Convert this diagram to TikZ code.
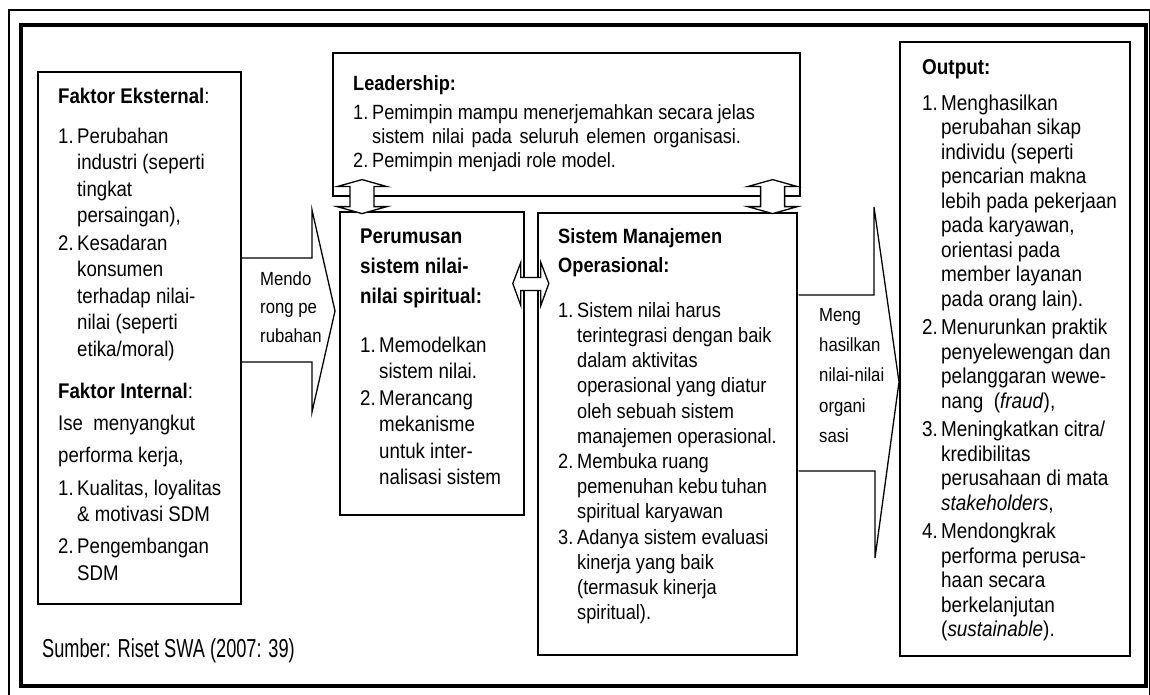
\documentclass[tikz,border=0pt]{standalone}
\usepackage{fontspec}
\setmainfont{Liberation Sans}[FakeStretch=0.88]
\newfontfamily\srcfont{Liberation Sans}[FakeStretch=0.70]
\usetikzlibrary{calc}
\newcommand{\nb}[1]{\makebox[19pt][l]{#1}}
\newcommand{\ind}{\hspace*{19pt}}
\newcommand{\fs}{\rule{0pt}{16pt}}
\newlength\ldw
\begin{document}
\settowidth\ldw{\fontsize{20.6}{24}\selectfont Pemimpin mampu menerjemahkan secara jelas}
\begin{tikzpicture}[x=1pt,y=-1pt,
  box/.style={draw, line width=1.6pt, rectangle, inner sep=0pt, anchor=north west},
  txt/.style={anchor=north west, inner sep=0pt, align=left},
  blockarrow/.style={draw, line width=1.3pt, line join=miter},
  dblarrow/.style={draw, line width=1.3pt, fill=white, line join=miter},
  frame/.style={draw, line width=3.5pt},
  thinframe/.style={draw, line width=1.4pt},
]
\useasboundingbox (0,0) rectangle (1150,695);
\fill[white] (0,0) rectangle (1150,695);
% frames
\draw[thinframe] (9,700) -- (9,10) -- (1149.3,10) -- (1149.3,700);
\draw[frame] (21,25) rectangle (1146,686);

% boxes
\node[box, minimum width=203pt, minimum height=532pt] (faktor) at (37,71) {};
\node[box, minimum width=467pt, minimum height=143pt] (leader) at (332,52) {};
\node[box, minimum width=184pt, minimum height=303pt] (perum) at (339,211) {};
\node[box, minimum width=259pt, minimum height=442pt] (sistem) at (537,212) {};
\node[box, minimum width=230pt, minimum height=614pt] (output) at (899,41) {};

% block arrows
\coordinate (a1s) at ($(faktor.north east)+(0,187)$);
\coordinate (a1e) at ($(faktor.north east)+(0,291)$);
\draw[blockarrow] (a1s) -- (312,258) -- (312,210) -- (335,311) -- (312,412) -- (312,362) -- (a1e);
\coordinate (a2s) at ($(sistem.north east)+(1,83)$);
\coordinate (a2e) at ($(sistem.north east)+(1,259)$);
\draw[blockarrow] (a2s) -- (874,295) -- (874,207) -- (899,382) -- (875,558) -- (875,471) -- (a2e);

% double arrows
\coordinate (d1) at ($(leader.south west)+(30,0)$);
\draw[dblarrow] ($(d1)+(0,-17)$) -- ++(25,7) -- ++(-13,0) -- ++(0,20) -- ++(13,0) -- ++(-25,7) -- ++(-25,-7) -- ++(13,0) -- ++(0,-20) -- ++(-13,0) -- cycle;
\coordinate (d2) at ($(leader.south east)+(-28,0)$);
\draw[dblarrow] ($(d2)+(0,-17)$) -- ++(25,7) -- ++(-13,0) -- ++(0,20) -- ++(13,0) -- ++(-25,7) -- ++(-25,-7) -- ++(13,0) -- ++(0,-20) -- ++(-13,0) -- cycle;
\coordinate (d3) at ($(perum.north east)!0.5!(sistem.north west)+(0,72)$);
\draw[dblarrow] ($(d3)+(-18,0)$) -- ++(8,-21) -- ++(0,15) -- ++(20,0) -- ++(0,-15) -- ++(8,21) -- ++(-8,22) -- ++(0,-15) -- ++(-20,0) -- ++(0,15) -- cycle;

% texts
\node[txt, font=\fontsize{21.2}{26.5}\selectfont] (faktorT) at (58,87) {%
\fs\textbf{Faktor Eksternal}:\\[13.5pt]
\nb{1.}Perubahan\\
\ind industri (seperti\\
\ind tingkat\\
\ind persaingan),\\[1pt]
\nb{2.}Kesadaran\\
\ind konsumen\\
\ind terhadap nilai-\\
\ind nilai (seperti\\
\ind etika/moral)\\[15.5pt]
\textbf{Faktor Internal}:\\[5.5pt]
Ise\ \ menyangkut\\[5.5pt]
performa kerja,\\[6.5pt]
\nb{1.}Kualitas, loyalitas\\
\ind \& motivasi SDM\\[5.5pt]
\nb{2.}Pengembangan\\[0.5pt]
\ind SDM};

\node[txt, font=\fontsize{20.6}{24}\selectfont] (leaderT) at (353,74) {%
\fs\textbf{Leadership:}\\[5pt]
\nb{1.}Pemimpin mampu menerjemahkan secara jelas\\
\ind\makebox[\dimexpr\ldw-14pt\relax][s]{sistem nilai pada seluruh elemen organisasi.}\\
\nb{2.}Pemimpin menjadi role model.};

\node[txt, font=\fontsize{21.3}{26.5}\selectfont] (perumT) at (360,227) {%
\fs\textbf{Perumusan}\\[3.5pt]
\textbf{sistem nilai-}\\[3.5pt]
\textbf{nilai spiritual:}\\[22.5pt]
\nb{1.}Memodelkan\\
\ind sistem nilai.\\
\nb{2.}Merancang\\
\ind mekanisme\\
\ind untuk inter-\\
\ind nalisasi sistem};

\node[txt, font=\fontsize{20.7}{25.2}\selectfont] (sistemT) at (558,227) {%
\fs\textbf{Sistem Manajemen}\\[3.8pt]
\textbf{Operasional:}\\[19.8pt]
\nb{1.}Sistem nilai harus\\
\ind terintegrasi dengan baik\\
\ind dalam aktivitas\\
\ind operasional yang diatur\\
\ind oleh sebuah sistem\\
\ind manajemen operasional.\\
\nb{2.}Membuka ruang\\
\ind pemenuhan kebu\,tuhan\\
\ind spiritual karyawan\\
\nb{3.}Adanya sistem evaluasi\\
\ind kinerja yang baik\\
\ind (termasuk kinerja\\
\ind spiritual).};

\node[txt, font=\fontsize{21.5}{24.5}\selectfont] (outputT) at (922,58) {%
\fs\textbf{Output:}\\[11.5pt]
\nb{1.}Menghasilkan\\
\ind perubahan sikap\\
\ind individu (seperti\\
\ind pencarian makna\\
\ind lebih pada pekerjaan\\
\ind pada karyawan,\\
\ind orientasi pada\\
\ind member layanan\\
\ind pada orang lain).\\[4pt]
\nb{2.}Menurunkan praktik\\
\ind penyelewengan dan\\
\ind pelanggaran wewe-\\
\ind nang\ \ (\textit{fraud}),\\[4pt]
\nb{3.}Meningkatkan citra/\\
\ind kredibilitas\\
\ind perusahaan di mata\\
\ind \textit{stakeholders},\\[4pt]
\nb{4.}Mendongkrak\\
\ind performa perusa-\\
\ind haan secara\\
\ind berkelanjutan\\
\ind (\textit{sustainable}).};

\node[txt, font=\fontsize{19}{28.5}\selectfont] (lab1) at (260,269) {\fs Mendo\\rong pe\\rubahan};
\node[txt, font=\fontsize{19}{30.3}\selectfont] (lab2) at (819,305) {\fs Meng\\hasilkan\\nilai-nilai\\organi\\sasi};

\node[anchor=base west, inner sep=0pt] (src) at (42,657) {\srcfont\fontsize{26}{26}\selectfont Sumber: Riset SWA (2007: 39)};
\end{tikzpicture}
\end{document}
